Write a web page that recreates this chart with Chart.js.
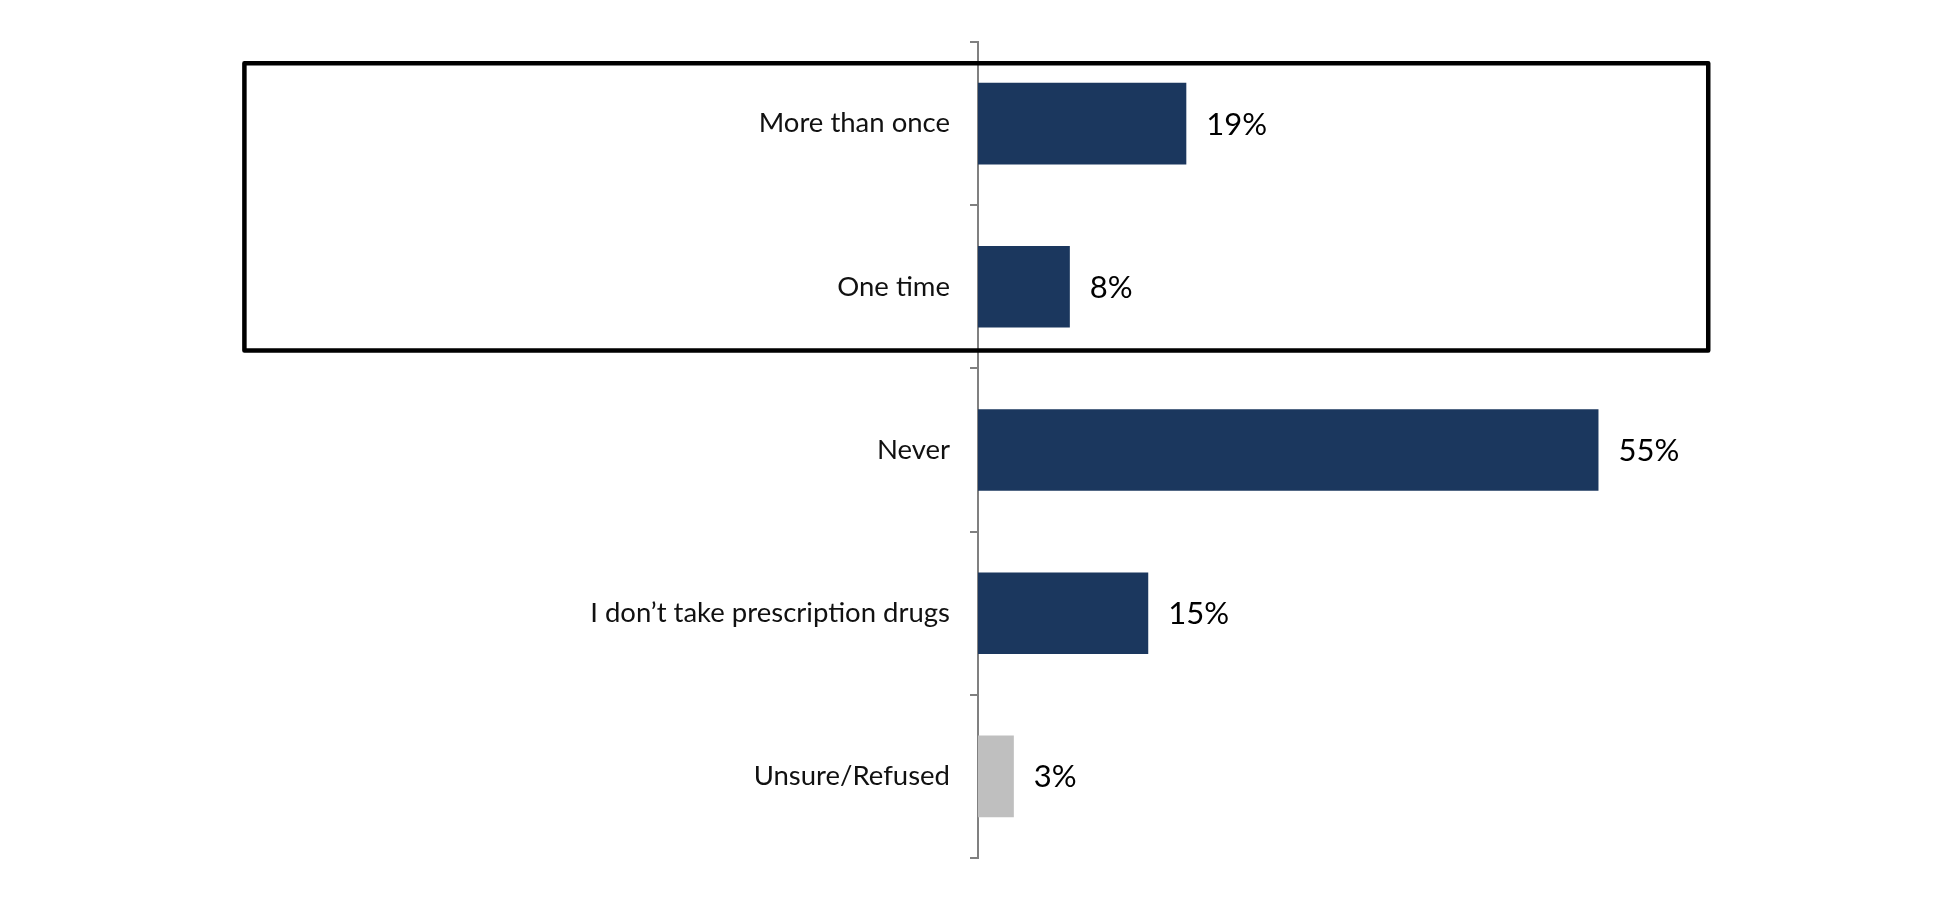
<!DOCTYPE html>
<html>
<head>
<meta charset="utf-8">
<title>Prescription drugs chart</title>
<script src="https://cdn.jsdelivr.net/npm/chart.js@4"></script>
<style>
  html, body { margin: 0; padding: 0; background: #fff; }
  .chart-wrap { position: relative; width: 1950px; height: 902px; }
</style>
</head>
<body>
<div class="chart-wrap"><canvas id="drugChart"></canvas></div>
<script>
// ---- Data ----
const categories = ['More than once', 'One time', 'Never', 'I don\u2019t take prescription drugs', 'Unsure/Refused'];
const shares     = [18.6, 8.2, 55.4, 15.2, 3.2];
const barColors  = ['#1B375E', '#1B375E', '#1B375E', '#1B375E', '#BFBFBF'];
const highlightRows = [0, 1]; // categories inside the outlined box

(function () {
  'use strict';

  // ---- Value labels to the right of each bar ----
  const valueLabels = {
    id: 'valueLabels',
    afterDatasetsDraw(chart) {
      const ctx = chart.ctx;
      const meta = chart.getDatasetMeta(0);
      ctx.save();
      ctx.font = '31px Lato, "Noto Sans", sans-serif';
      ctx.fillStyle = '#000';
      ctx.textAlign = 'left';
      ctx.textBaseline = 'middle';
      meta.data.forEach((bar, i) => {
        ctx.fillText(Math.round(shares[i]) + '%', bar.x + 20, bar.y + 1);
      });
      ctx.restore();
    }
  };

  // ---- Outline box round the highlighted rows ----
  const highlightBox = {
    id: 'highlightBox',
    afterDraw(chart) {
      const { ctx, scales: { x, y } } = chart;
      const band = y.getPixelForValue(1) - y.getPixelForValue(0);
      const top = y.getPixelForValue(highlightRows[0]) - band * 0.37;
      const bottom = y.getPixelForValue(highlightRows[highlightRows.length - 1]) + band * 0.39;
      const left = x.getPixelForValue(-65.5);
      const right = x.getPixelForValue(65.2);
      ctx.save();
      ctx.strokeStyle = '#000';
      ctx.lineWidth = 4.5;
      ctx.lineJoin = 'round';
      ctx.strokeRect(left, top, right - left, bottom - top);
      ctx.restore();
    }
  };

  new Chart(document.getElementById('drugChart'), {
    type: 'bar',
    data: {
      labels: categories,
      datasets: [{
        data: shares,
        backgroundColor: barColors,
        borderWidth: 0,
        categoryPercentage: 0.5,
        barPercentage: 1,
      }],
    },
    options: {
      indexAxis: 'y',
      responsive: true,
      maintainAspectRatio: false,
      animation: false,
      layout: { padding: { top: 42, bottom: 44, left: 0, right: 244 } },
      plugins: { legend: { display: false }, tooltip: { enabled: false } },
      scales: {
        x: { display: false, min: 0, max: 65 },
        y: {
          afterFit: axis => { axis.width = 978; },
          border: { display: true, color: '#808080', width: 2 },
          grid: {
            offset: true,
            drawOnChartArea: false,
            drawTicks: true,
            tickLength: 8,
            color: '#808080',
            lineWidth: 2,
          },
          ticks: {
            padding: 20,
            color: '#111',
            font: { family: 'Lato, "Noto Sans", sans-serif', size: 27.5 },
          },
        },
      },
    },
    plugins: [valueLabels, highlightBox],
  });
})();
</script>
</body>
</html>
